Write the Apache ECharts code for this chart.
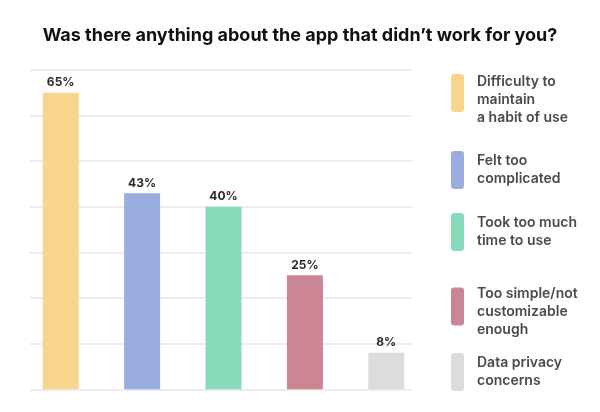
<!DOCTYPE html>
<html>
<head>
<meta charset="utf-8">
<script src="https://cdn.jsdelivr.net/npm/echarts@6/dist/echarts.min.js"></script>
<style>html,body{margin:0;padding:0;background:#fff;}#c{width:600px;height:412px;}</style>
</head>
<body>
<div id="c"></div>
<script>
const title = "Was there anything about the app that didn\u2019t work for you?";
const categories = ["Difficulty to maintain a habit of use", "Felt too complicated", "Took too much time to use", "Too simple/not customizable enough", "Data privacy concerns"];
const legendLabels = ["Difficulty to\nmaintain\na habit of use", "Felt too\ncomplicated", "Took too much\ntime to use", "Too simple/not\ncustomizable\nenough", "Data privacy\nconcerns"];
const values = [65, 43, 40, 25, 8];
const colors = ["#F9D48B", "#99ADDF", "#88DBBA", "#CB8696", "#DCDCDC"];
const yTicks = [0, 10, 20, 30, 40, 50, 60, 70];
const legendTops = [59, 151, 213, 274, 353];
const legendLead = [14, 0, 0, 11, 0];

const FONT = "Inter, 'Noto Sans', sans-serif";
const chart = echarts.init(document.getElementById('c'), null, {renderer: 'canvas'});

const series = categories.map((name, i) => ({
  name: name,
  type: 'bar',
  stack: 'all',
  xAxisIndex: 1,
  yAxisIndex: 1,
  barWidth: 36,
  data: values.map((v, j) => j === i ? v : '-'),
  itemStyle: {color: colors[i]},
  label: {
    show: true,
    position: 'top',
    distance: 4,
    formatter: p => p.value + '%',
    color: '#2a2a33',
    fontFamily: FONT,
    fontWeight: 700,
    fontSize: 12
  },
  emphasis: {disabled: true}
}));

const legends = categories.map((name, i) => ({
  data: [name],
  left: 451,
  top: legendTops[i],
  orient: 'vertical',
  padding: 0,
  icon: 'roundRect',
  itemWidth: 13,
  itemHeight: 38,
  itemStyle: {borderRadius: 4},
  selectedMode: false,
  formatter: () => (legendLead[i] ? '{g|\u200b}\n' : '') + legendLabels[i],
  textStyle: {
    fontFamily: FONT,
    fontWeight: 600,
    fontSize: 14,
    lineHeight: 18,
    color: '#4a4a4f',
    padding: [0, 0, 0, 8],
    rich: {g: {fontSize: 2, lineHeight: legendLead[i] || 1}}
  }
}));

chart.setOption({
  backgroundColor: '#ffffff',
  animation: false,
  title: {
    text: title,
    left: 'center',
    top: 27,
    padding: 0,
    textStyle: {fontFamily: FONT, fontWeight: 700, fontSize: 18, color: '#111111'}
  },
  legend: legends,
  grid: [
    {left: 30, top: 70, width: 382, height: 319.3},
    {left: 20, top: 70, width: 407, height: 319.3}
  ],
  xAxis: [
    {gridIndex: 0, type: 'category', data: categories, show: false},
    {gridIndex: 1, type: 'category', data: categories, axisLine: {show: false}, axisTick: {show: false}, axisLabel: {show: false}}
  ],
  yAxis: [
    {gridIndex: 0, type: 'value', min: yTicks[0], max: yTicks[yTicks.length - 1], interval: yTicks[1] - yTicks[0],
      axisLabel: {show: false}, axisLine: {show: false}, axisTick: {show: false},
      splitLine: {show: true, lineStyle: {color: '#e6e6e6', width: 1.5}}},
    {gridIndex: 1, type: 'value', min: yTicks[0], max: yTicks[yTicks.length - 1], interval: yTicks[1] - yTicks[0],
      axisLabel: {show: false}, axisLine: {show: false}, axisTick: {show: false}, splitLine: {show: false}}
  ],
  series: series
});
</script>
</body>
</html>
